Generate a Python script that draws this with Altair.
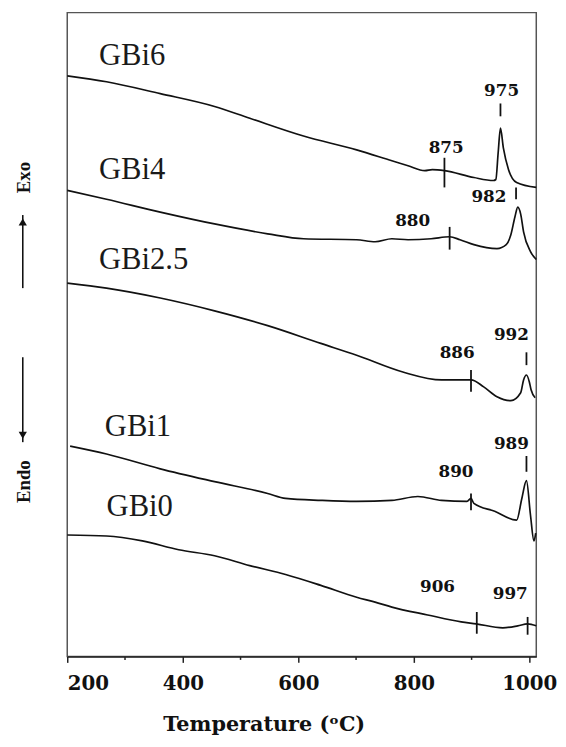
import altair as alt
import pandas as pd

# ---- curves: temperature (°C) and DTA signal (arbitrary units)
gbi6_T = [200, 268, 361, 455, 516, 609, 701, 762, 790, 819, 832, 853, 904, 938, 942, 946, 950, 955, 964, 978, 1012]
gbi6_S = [588, 582, 570, 557, 545, 527, 513, 502, 497, 492, 493, 492, 485, 482, 483, 510, 535, 515, 493, 480, 475]

gbi4_T = [200, 268, 361, 455, 547, 609, 701, 733, 762, 790, 830, 862, 880, 904, 944, 960, 968, 975, 980, 985, 990, 1002, 1012]
gbi4_S = [472, 463, 450, 438, 428, 423, 422, 420, 423, 422, 423, 425, 422, 417, 413, 417, 427, 445, 455, 448, 430, 410, 402]

gbi25_T = [200, 268, 361, 455, 547, 639, 701, 781, 848, 899, 921, 944, 968, 985, 990, 995, 1000, 1003, 1010]
gbi25_S = [378, 373, 363, 350, 335, 317, 305, 288, 280, 280, 273, 263, 259, 267, 280, 285, 278, 270, 262]

gbi1_T = [205, 268, 361, 455, 547, 578, 640, 701, 762, 807, 848, 892, 899, 904, 940, 978, 987, 995, 1002, 1008, 1011]
gbi1_S = [213, 205, 190, 177, 165, 160, 158, 157, 158, 162, 158, 157, 160, 155, 147, 138, 160, 178, 143, 117, 125]

gbi0_T = [200, 268, 330, 393, 455, 516, 578, 639, 701, 733, 762, 824, 882, 908, 954, 980, 997, 1012]
gbi0_S = [123, 122, 117, 108, 102, 92, 83, 72, 60, 55, 50, 42, 35, 33, 29, 31, 33, 31]

# ---- series names and label anchors
series_names = ["GBi6", "GBi4", "GBi2.5", "GBi1", "GBi0"]
name_T = [255, 255, 255, 265, 268]
name_S = [608, 493, 401, 232, 151]

# ---- peak / onset annotations
peak_text = ["875", "975", "880", "982", "886", "992", "890", "989", "906", "997"]
peak_text_T = [856, 952, 798, 930, 875, 969, 873, 969, 841, 967]
peak_text_S = [515, 573, 441, 465, 307, 325, 187, 215, 70, 63]
mark_T = [853, 950, 862, 977, 899, 995, 899, 995, 909, 997]
mark_S1 = [505, 560, 435, 475, 290, 308, 165, 203, 45, 40]
mark_S2 = [475, 547, 412, 463, 268, 295, 148, 187, 23, 22]

# ---- Exo / Endo indicators
side_text = ["Exo", "Endo"]
side_T = [125, 125]
side_S = [485, 177]
arrow_T = [123, 123]
arrow_S1 = [373, 303]
arrow_S2 = [447, 217]
head_S = [440, 224]
head_shape = ["triangle-up", "triangle-down"]

x_ticks = [200, 300, 400, 500, 600, 700, 800, 900, 1000]

rows = []
for name, ts, ss in zip(series_names,
                        [gbi6_T, gbi4_T, gbi25_T, gbi1_T, gbi0_T],
                        [gbi6_S, gbi4_S, gbi25_S, gbi1_S, gbi0_S]):
    for t, s in zip(ts, ss):
        rows.append({"series": name, "T": t, "S": s})
curves = pd.DataFrame(rows)

names_df = pd.DataFrame({"name": series_names, "T": name_T, "S": name_S})
peaks_df = pd.DataFrame({"txt": peak_text, "T": peak_text_T, "S": peak_text_S})
marks_df = pd.DataFrame({"T": mark_T, "S1": mark_S1, "S2": mark_S2})
side_df = pd.DataFrame({"txt": side_text, "T": side_T, "S": side_S})
arrow_df = pd.DataFrame({"T": arrow_T, "S1": arrow_S1, "S2": arrow_S2, "H": head_S, "shape": head_shape})

xscale = alt.Scale(domain=[200, 1012], nice=False, zero=False)
yscale = alt.Scale(domain=[0, 652], nice=False, zero=False)

xaxis = alt.Axis(
    values=x_ticks,
    format="d",
    labelExpr="datum.value % 200 === 0 ? datum.label : ''",
    tickSize={"condition": {"test": "datum.value % 200 === 0", "value": 6}, "value": 3},
    tickColor="#222",
    tickWidth=1.5,
    domainColor="#222",
    domainWidth=1.5,
    grid=False,
    labelFont="DejaVu Serif",
    labelFontWeight="bold",
    labelFontSize=20,
    labelColor="#111",
    labelPadding=11,
    title="Temperature (ᵒC)",
    titleFont="DejaVu Serif",
    titleFontWeight="bold",
    titleFontSize=21,
    titleColor="#111",
    titleX=199,
    titleY=69,
    titleAlign="center",
    titleBaseline="middle",
)

X = alt.X("T:Q", scale=xscale, axis=xaxis)
Y = alt.Y("S:Q", scale=yscale, axis=None)

lines = alt.Chart(curves).mark_line(color="#111", strokeWidth=1.7, interpolate="monotone").encode(
    x=X, y=Y, detail="series:N"
)

names = alt.Chart(names_df).mark_text(
    font="Liberation Serif", fontSize=31, align="left", baseline="middle", color="#1a1a1a"
).encode(x=alt.X("T:Q", scale=xscale), y=alt.Y("S:Q", scale=yscale), text="name:N")

peaks = alt.Chart(peaks_df).mark_text(
    font="DejaVu Serif", fontWeight="bold", fontSize=17, align="center", baseline="middle", color="#111"
).encode(x=alt.X("T:Q", scale=xscale), y=alt.Y("S:Q", scale=yscale), text="txt:N")

marks = alt.Chart(marks_df).mark_rule(color="#111", strokeWidth=1.8).encode(
    x=alt.X("T:Q", scale=xscale), y=alt.Y("S1:Q", scale=yscale), y2="S2:Q"
)

side = alt.Chart(side_df).mark_text(
    font="Liberation Serif", fontWeight="bold", fontSize=19, align="center", baseline="middle",
    angle=270, color="#111"
).encode(x=alt.X("T:Q", scale=xscale), y=alt.Y("S:Q", scale=yscale), text="txt:N")

arrows = alt.Chart(arrow_df).mark_rule(color="#111", strokeWidth=1.6).encode(
    x=alt.X("T:Q", scale=xscale), y=alt.Y("S1:Q", scale=yscale), y2="S2:Q"
)

heads = alt.Chart(arrow_df).mark_point(filled=True, color="#111", size=70, opacity=1).encode(
    x=alt.X("T:Q", scale=xscale), y=alt.Y("H:Q", scale=yscale),
    shape=alt.Shape("shape:N", scale=None)
)

chart = alt.layer(lines, marks, names, peaks, side, arrows, heads).properties(
    width=475,
    height=652,
    autosize=alt.AutoSizeParams(type="none"),
    padding={"left": 60, "top": 0, "right": 22, "bottom": 85},
).configure_view(
    stroke="#555", strokeWidth=1.5
)

chart.save("out.html", embed_options={"renderer": "svg", "actions": False})
